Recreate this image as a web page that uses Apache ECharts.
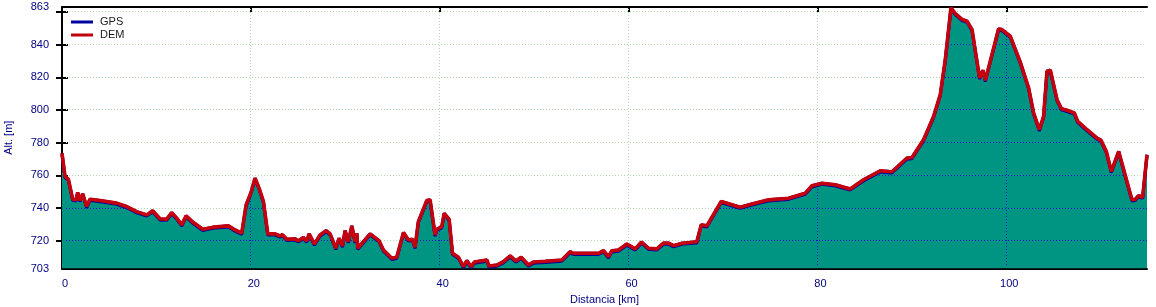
<!DOCTYPE html>
<html><head><meta charset="utf-8">
<script src="https://cdn.jsdelivr.net/npm/echarts@6/dist/echarts.min.js"></script>
<style>html,body{margin:0;padding:0;background:#fff}#c{width:1156px;height:307px}</style>
</head><body><div id="c"></div><script>
// ---- data ----
const distanceKm = [0, 0.32, 0.67, 1.13, 1.48, 1.66, 1.9, 2.19, 2.61, 2.97, 4.03, 5.79, 6.85, 7.91, 8.97, 9.6, 10.4, 11.09, 11.62, 12.15, 12.68, 13.14, 13.91, 14.9, 16.03, 17.62, 18.33, 19.03, 19.5, 19.99, 20.44, 20.87, 21.33, 21.79, 22.56, 23.09, 23.34, 23.8, 24.68, 25.03, 25.56, 25.92, 26.17, 26.73, 27.33, 27.97, 28.39, 28.99, 29.34, 29.7, 29.98, 30.33, 30.69, 31.04, 31.22, 31.32, 32.63, 33.57, 34.04, 34.92, 35.45, 36.16, 36.69, 37.11, 37.39, 37.74, 38.63, 38.98, 39.51, 39.69, 40.22, 40.47, 41.0, 41.35, 41.98, 42.51, 42.87, 43.33, 43.68, 44.99, 45.23, 46.05, 46.75, 47.46, 48.06, 48.62, 49.4, 49.93, 51.17, 52.93, 53.81, 54.16, 56.81, 57.35, 57.87, 58.23, 58.93, 59.82, 60.7, 61.37, 62.11, 62.99, 63.7, 64.23, 64.76, 65.65, 67.23, 67.69, 68.29, 69.81, 71.82, 73.06, 74.82, 76.94, 78.71, 79.42, 80.47, 81.89, 83.47, 84.88, 86.65, 87.89, 89.48, 90.01, 91.24, 92.3, 93.01, 93.54, 94.14, 94.6, 95.31, 95.84, 96.37, 97.17, 97.53, 97.78, 99.18, 99.54, 100.42, 101.48, 102.36, 102.89, 103.5, 103.95, 104.31, 104.66, 105.37, 105.83, 106.43, 107.2, 107.56, 108.55, 109.61, 110.03, 110.59, 111.12, 111.9, 113.31, 113.67, 114.01, 114.44, 114.9];
const altitudeM = [773.5, 759.3, 757.7, 745.4, 745, 749.5, 744.6, 748.7, 740.9, 745.4, 744.6, 743, 740.9, 737.8, 735.8, 738.3, 733.3, 733.2, 737.2, 733.8, 729.7, 735.2, 731.1, 727, 728.3, 729.1, 726.6, 724.6, 741.9, 749.1, 758.3, 752.2, 744, 724.2, 724.2, 722.9, 723.7, 720.9, 721.1, 720, 721.9, 719.9, 724.2, 718, 723.5, 726.2, 724.2, 715.4, 721.5, 716.8, 726.2, 719.4, 729.1, 719.4, 724.6, 715.4, 724.2, 720, 714.3, 709.3, 709.9, 725, 720.5, 720.9, 716, 731.7, 744.6, 745, 723.5, 727, 728.6, 736.8, 733, 712.3, 709.9, 704.1, 707.8, 704.1, 707, 708.2, 704.5, 705.1, 707.2, 710.7, 707.6, 709.9, 705.1, 707, 707.4, 708.2, 713.3, 712.3, 712.3, 713.9, 710.2, 713.9, 714.3, 718, 715, 719.2, 715.4, 715, 718.5, 718.5, 717, 718.5, 719.4, 729.7, 729.1, 744, 740.5, 742.5, 745, 746, 749.1, 753.6, 755.2, 754.2, 751.7, 757.3, 762.8, 762.2, 770.6, 770.9, 781.8, 796.1, 809.4, 830.8, 862.5, 859, 855.4, 854.3, 849.2, 819.6, 824.3, 818.1, 849.6, 849.2, 845.1, 829.3, 813.5, 798.2, 787.9, 796.1, 823.7, 824.3, 806.3, 800.8, 799.8, 798.2, 793, 787.9, 782.8, 781.4, 774.6, 762.4, 774.6, 745, 745.4, 747.6, 746.6, 772.6];
const seriesNames = ['GPS', 'DEM'];
const yLabelValues = [703, 720, 740, 760, 780, 800, 820, 840, 863];
const yTickValues = [720, 740, 760, 780, 800, 820, 840, 860];
const gridAltitudes = [720, 740, 760, 780, 800, 820, 840, 860];
const xLabelValues = [0, 20, 40, 60, 80, 100];
const gridDistances = [20, 40, 60, 80, 100];

const Y_MIN = 703, Y_MAX = 863;
const X_MIN = 0, X_MAX = distanceKm[distanceKm.length - 1];

const FONT = 'Liberation Sans';
const NAVY = '#000080';
const GREEN = '#b4dcb4';
const BLUE_DOT = '#1414d2';
const TEAL = '#009482';
const RED = '#c4000e';
const GPS_BLUE = '#0000a0';

const profile = distanceKm.map((d, i) => [d, altitudeM[i]]);

function half(v) { return Math.round(v - 0.5) + 0.5; }

function segmentsAbove(v) {
  const segs = [];
  let s = altitudeM[0] >= v ? distanceKm[0] : null;
  for (let i = 0; i < distanceKm.length - 1; i++) {
    const a0 = altitudeM[i], a1 = altitudeM[i + 1];
    if ((a0 >= v) !== (a1 >= v)) {
      const t = (v - a0) / (a1 - a0);
      const xc = distanceKm[i] + t * (distanceKm[i + 1] - distanceKm[i]);
      if (s === null) s = xc; else { segs.push([s, xc]); s = null; }
    }
  }
  if (s !== null) segs.push([s, distanceKm[distanceKm.length - 1]]);
  return segs;
}
function altAt(d) {
  for (let i = 0; i < distanceKm.length - 1; i++) {
    if (d >= distanceKm[i] && d <= distanceKm[i + 1]) {
      const t = (d - distanceKm[i]) / (distanceKm[i + 1] - distanceKm[i]);
      return altitudeM[i] + t * (altitudeM[i + 1] - altitudeM[i]);
    }
  }
  return Y_MIN;
}

function dotted(color, x1, y1, x2, y2, offset) {
  return { type: 'line', shape: { x1, y1, x2, y2 },
    style: { stroke: color, lineWidth: 1, lineDash: [1, 2], lineDashOffset: offset || 0, fill: null } };
}

function renderBackGrid(params, api) {
  const children = [];
  const xl = api.coord([X_MIN, Y_MIN])[0] + 2, xr = api.coord([X_MAX, Y_MIN])[0] - 2;
  const yb = api.coord([X_MIN, Y_MIN])[1] - 2, yt = api.coord([X_MIN, Y_MAX])[1] + 1;
  gridAltitudes.forEach(v => {
    const y = half(api.coord([X_MIN, v])[1]);
    children.push(dotted(GREEN, xl, y, xr, y, xl));
  });
  gridDistances.forEach(d => {
    const x = half(api.coord([d, Y_MIN])[0]);
    children.push(dotted(GREEN, x, yt, x, yb, yt));
  });
  return { type: 'group', children };
}

function renderFrontGrid(params, api) {
  const children = [];
  const yb = api.coord([X_MIN, Y_MIN])[1] - 2;
  gridAltitudes.forEach(v => {
    segmentsAbove(v).forEach(([a, b]) => {
      const p1 = api.coord([a, v]), p2 = api.coord([b, v]);
      const y = half(p1[1]);
      const xa = Math.max(p1[0], api.coord([X_MIN, v])[0] + 2);
      children.push(dotted(BLUE_DOT, xa, y, p2[0], y, xa));
    });
  });
  gridDistances.forEach(d => {
    const top = api.coord([d, altAt(d)]);
    const x = half(top[0]);
    children.push(dotted(BLUE_DOT, x, top[1], x, yb, top[1]));
  });
  return { type: 'group', children };
}

const chart = echarts.init(document.getElementById('c'), null, { renderer: 'canvas' });
const axisLabelStyle = { color: NAVY, fontFamily: FONT, fontSize: 11 };
const frameLine = { show: true, lineStyle: { color: '#000', width: 2 } };
const innerTick = (vals, len) => ({ show: true, inside: true, length: len, customValues: vals, lineStyle: { color: '#000', width: 2 } });

chart.setOption({
  animation: false,
  backgroundColor: '#fff',
  textStyle: { fontFamily: FONT },
  grid: { left: 62, right: 9, top: 7, bottom: 38.5, containLabel: false, outerBoundsMode: 'none' },
  legend: {
    data: [{ name: seriesNames[0], icon: 'rect' }, { name: seriesNames[1], icon: 'rect' }],
    orient: 'vertical', left: 71, top: 15.5, padding: 0,
    itemWidth: 22, itemHeight: 3, itemGap: 0,
    textStyle: { color: '#1a1a1a', fontFamily: FONT, fontSize: 11, lineHeight: 6, padding: [0, 0, 7, 2] },
    selectedMode: false
  },
  xAxis: [{
    type: 'value', min: X_MIN, max: X_MAX, position: 'bottom',
    name: 'Distancia [km]', nameLocation: 'middle', nameGap: 19,
    nameTextStyle: axisLabelStyle,
    axisLine: frameLine,
    axisTick: innerTick(xLabelValues, 6),
    axisLabel: Object.assign({ customValues: xLabelValues, margin: 10, padding: [0, 0, 0, 6] }, axisLabelStyle),
    splitLine: { show: false }
  }, {
    type: 'value', min: X_MIN, max: X_MAX, position: 'top',
    axisLine: frameLine,
    axisTick: innerTick(gridDistances, 5),
    axisLabel: { show: false }, splitLine: { show: false }
  }],
  yAxis: [{
    type: 'value', min: Y_MIN, max: Y_MAX, position: 'left',
    name: 'Alt. [m]', nameLocation: 'middle', nameGap: 48,
    nameTextStyle: axisLabelStyle,
    axisLine: frameLine,
    axisTick: innerTick(yTickValues, 6),
    axisLabel: Object.assign({ customValues: yLabelValues, margin: 13, padding: [2, 0, 0, 0] }, axisLabelStyle),
    splitLine: { show: false }
  }, {
    type: 'value', min: Y_MIN, max: Y_MAX, position: 'right',
    axisLine: frameLine,
    axisTick: innerTick(yTickValues, 6),
    axisLabel: { show: false }, splitLine: { show: false }
  }],
  series: [
    { type: 'custom', name: 'gridBack', z: 1, silent: true, renderItem: renderBackGrid, data: [[X_MIN, Y_MIN]], clip: false },
    { type: 'line', name: 'area', z: 2, silent: true, data: profile, symbol: 'none',
      lineStyle: { width: 0, opacity: 0 }, areaStyle: { color: TEAL, opacity: 1, origin: 'start' } },
    { type: 'custom', name: 'gridFront', z: 3, silent: true, renderItem: renderFrontGrid, data: [[X_MIN, Y_MIN]], clip: false },
    { type: 'line', name: seriesNames[0], z: 4, data: profile, symbol: 'none', color: GPS_BLUE,
      lineStyle: { color: GPS_BLUE, width: 3, shadowColor: GPS_BLUE, shadowOffsetY: 1.2, shadowBlur: 0 } },
    { type: 'line', name: seriesNames[1], z: 5, data: profile, symbol: 'none', color: RED,
      lineStyle: { color: RED, width: 3.6 } }
  ]
});
</script></body></html>
